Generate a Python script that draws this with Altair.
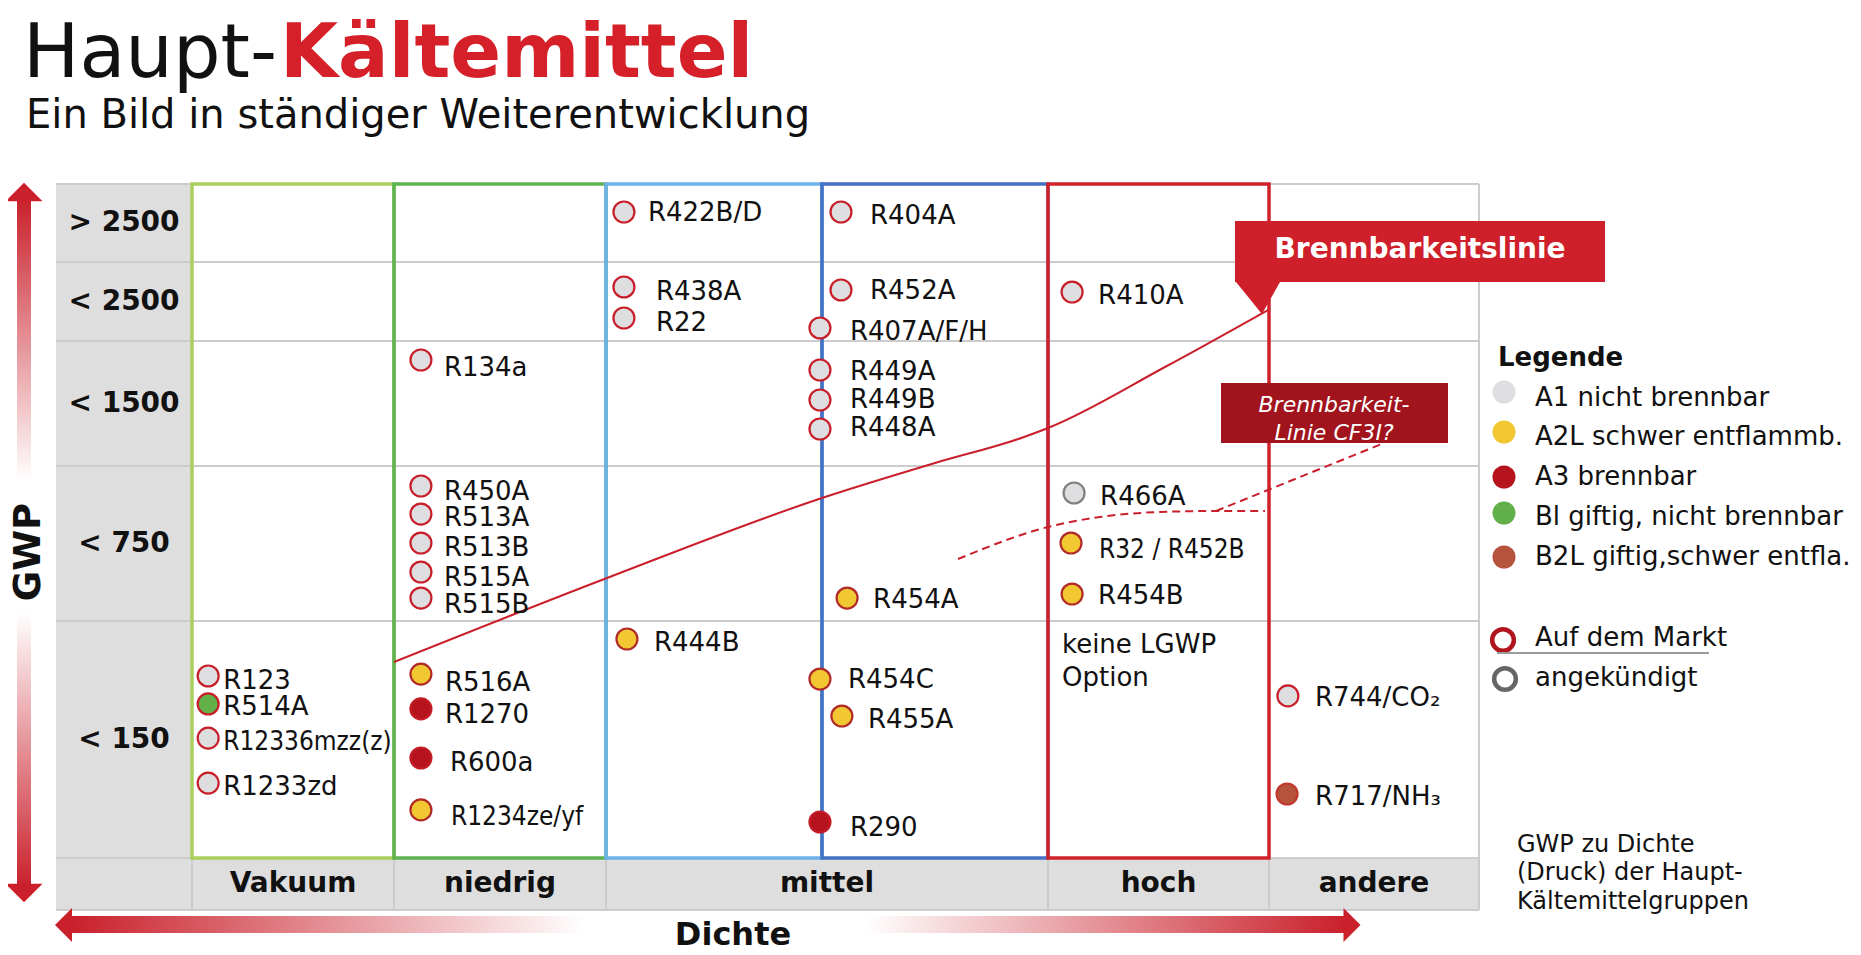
import altair as alt
import pandas as pd

# ---------------- chart values ----------------
gwp_bands = ["> 2500", "< 2500", "< 1500", "< 750", "< 150"]
density_groups = ["Vakuum", "niedrig", "mittel", "hoch", "andere"]
safety_classes = ["A1", "A2L", "A3", "B1", "B2L"]
legend_labels = ["A1 nicht brennbar", "A2L schwer entflammb.", "A3 brennbar",
                 "Bl giftig, nicht brennbar", "B2L giftig,schwer entfla."]
status_labels = ["Auf dem Markt", "angekündigt"]

refrigerants = ["R123", "R514A", "R12336mzz(z)", "R1233zd",
                "R134a", "R450A", "R513A", "R513B", "R515A", "R515B",
                "R516A", "R1270", "R600a", "R1234ze/yf",
                "R422B/D", "R438A", "R22", "R444B",
                "R404A", "R452A", "R407A/F/H", "R449A", "R449B", "R448A",
                "R454A", "R454C", "R455A", "R290",
                "R410A", "R466A", "R32 / R452B", "R454B",
                "R744/CO₂", "R717/NH₃"]
ref_group = (["Vakuum"] * 4 + ["niedrig"] * 10 + ["mittel-1"] * 4 +
             ["mittel-2"] * 10 + ["hoch"] * 4 + ["andere"] * 2)
ref_band = (["< 150"] * 4 +
            ["< 1500"] + ["< 750"] * 5 + ["< 150"] * 4 +
            ["> 2500", "< 2500", "< 2500", "< 150"] +
            ["> 2500", "< 2500", "< 2500", "< 1500", "< 1500", "< 1500",
             "< 750", "< 150", "< 150", "< 150"] +
            ["< 2500", "< 750", "< 750", "< 750"] +
            ["< 150", "< 150"])
ref_class = ["A1", "B1", "A1", "A1",
             "A1", "A1", "A1", "A1", "A1", "A1",
             "A2L", "A3", "A3", "A2L",
             "A1", "A1", "A1", "A2L",
             "A1", "A1", "A1", "A1", "A1", "A1",
             "A2L", "A2L", "A2L", "A3",
             "A1", "A1", "A2L", "A2L",
             "A1", "B2L"]
ref_status = ["Auf dem Markt"] * 29 + ["angekündigt"] + ["Auf dem Markt"] * 4
# position of each refrigerant inside its cell (0..1 across, 0..1 down)
cell_fx = [0.08, 0.08, 0.08, 0.08,
           0.127, 0.127, 0.127, 0.127, 0.127, 0.127,
           0.127, 0.127, 0.127, 0.127,
           0.083, 0.083, 0.083, 0.097,
           0.084, 0.084, -0.009, -0.009, -0.009, -0.009,
           0.111, -0.009, 0.088, -0.009,
           0.109, 0.118, 0.104, 0.109,
           0.090, 0.086]
cell_fy = [0.232, 0.350, 0.494, 0.684,
           0.152, 0.129, 0.310, 0.497, 0.684, 0.852,
           0.224, 0.371, 0.578, 0.797,
           0.359, 0.316, 0.709, 0.076,
           0.359, 0.354, 0.835, 0.232, 0.472, 0.704,
           0.852, 0.245, 0.401, 0.848,
           0.380, 0.174, 0.497, 0.826,
           0.316, 0.730]
condensed_names = ["R12336mzz(z)", "R1234ze/yf", "R32 / R452B"]

flam_line_x = [394, 607, 822, 935, 1024, 1048, 1165, 1268]
flam_line_y = [662, 578, 498, 463, 437, 428, 367, 310]
cf3i_line_x = [958, 1048, 1100, 1160, 1216, 1265]
cf3i_line_y = [559, 527, 517, 512, 511, 511]
cf3i_link_x = [1216, 1384]
cf3i_link_y = [511, 443]

title_a = "Haupt-"
title_b = "Kältemittel"
subtitle = "Ein Bild in ständiger Weiterentwicklung"
callout_main = "Brennbarkeitslinie"
callout_cf3i = ["Brennbarkeit-", "Linie CF3I?"]
no_option = ["keine LGWP", "Option"]
side_note = ["GWP zu Dichte", "(Druck) der Haupt-", "Kältemittelgruppen"]

# ---------------- layout (page units) ----------------
COL = {"Vakuum": (192, 394), "niedrig": (394, 606), "mittel-1": (606, 822),
       "mittel-2": (822, 1048), "hoch": (1048, 1269), "andere": (1269, 1479)}
BOTTOM_COL = {"Vakuum": (192, 394), "niedrig": (394, 606), "mittel": (606, 1048),
              "hoch": (1048, 1269), "andere": (1269, 1479)}
ROW = {"> 2500": (184, 262), "< 2500": (262, 341), "< 1500": (341, 466),
       "< 750": (466, 621), "< 150": (621, 858)}
GRID_L, GRID_R, GRID_T, CELL_B, GRID_B = 56, 1479, 184, 858, 910
label_dx = [17, 17, 17, 17,
            25, 25, 25, 25, 25, 25,
            26, 26, 31, 32,
            26, 34, 34, 29,
            31, 31, 32, 32, 32, 32,
            28, 30, 28, 32,
            28, 28, 30, 28,
            29, 30]
label_dy = [5, 3, 4, 4,
            8, 6, 4, 5, 6, 7,
            9, 6, 5, 7,
            1, 5, 5, 4,
            4, 1, 4, 2, 0, -1,
            2, 1, 4, 6,
            4, 4, 7, 2,
            2, 3]

RED = "#c9202b"
GREY_BG = "#dedede"
GRID = "#cccccc"
FONT = "DejaVu Sans"

dot_fill = ["#dedee0", "#f2c832", "#b5141e", "#62b04a", "#b5533c"]
dot_stroke = {"A1": "#c81e2a", "A2L": "#b02a28", "A3": "#c41c26", "B1": "#c81e2a", "B2L": "#c0392e"}
announced_stroke = "#808080"
legend_fill = ["#e3e3e6", "#f3c72f", "#d2202b", "#9fd15a", "#b65b43"]

xs = alt.Scale(domain=[8, 1853], nice=False, zero=False)
ys = alt.Scale(domain=[8, 953], nice=False, zero=False, reverse=True)


def X(f="x"):
    return alt.X(f"{f}:Q", scale=xs, axis=None)


def Y(f="y"):
    return alt.Y(f"{f}:Q", scale=ys, axis=None)


def txt(df, **mk):
    return alt.Chart(df).mark_text(font=mk.pop("font", FONT), **mk).encode(
        x=X(), y=Y(), text="t:N")


def rects(df, **mk):
    return alt.Chart(df).mark_rect(**mk).encode(x=X(), x2="x2:Q", y=Y(), y2="y2:Q")


layers = []

# backgrounds
bg = pd.DataFrame({"x": [GRID_L, GRID_L], "x2": [COL["Vakuum"][0], GRID_R],
                   "y": [GRID_T, CELL_B], "y2": [CELL_B, GRID_B]})
layers.append(rects(bg, color=GREY_BG))

# grid lines
hl = []
for yv in [r[0] for r in ROW.values()] + [CELL_B, GRID_B]:
    hl.append(dict(x=GRID_L, x2=GRID_R, y=yv, y2=yv))
for xv in [192, 394, 606, 1048, 1269]:
    hl.append(dict(x=xv, x2=xv, y=CELL_B, y2=GRID_B))
hl.append(dict(x=GRID_R, x2=GRID_R, y=GRID_T, y2=GRID_B))
layers.append(alt.Chart(pd.DataFrame(hl)).mark_rule(color=GRID, strokeWidth=2).encode(
    x=X(), x2="x2:Q", y=Y(), y2="y2:Q"))

# coloured density boxes
box_cols = ["Vakuum", "niedrig", "mittel-1", "mittel-2", "hoch"]
box_colors = ["#a9d05b", "#5db451", "#6db1ea", "#4472c4", "#d0222b"]
for key, c in zip(box_cols, box_colors):
    b = pd.DataFrame({"x": [COL[key][0]], "x2": [COL[key][1]], "y": [GRID_T], "y2": [CELL_B]})
    layers.append(rects(b, fillOpacity=0, stroke=c, strokeWidth=3.5))

# flammability lines
fl = pd.DataFrame({"x": flam_line_x, "y": flam_line_y, "i": range(len(flam_line_x))})
layers.append(alt.Chart(fl).mark_line(color=RED, strokeWidth=2, interpolate="monotone").encode(
    x=X(), y=Y(), order="i:Q"))
cl = pd.DataFrame({"x": cf3i_line_x, "y": cf3i_line_y, "i": range(len(cf3i_line_x))})
layers.append(alt.Chart(cl).mark_line(color=RED, strokeWidth=2, strokeDash=[8, 5],
                                      interpolate="monotone").encode(x=X(), y=Y(), order="i:Q"))
ck = pd.DataFrame({"x": cf3i_link_x, "y": cf3i_link_y, "i": [0, 1]})
layers.append(alt.Chart(ck).mark_line(color=RED, strokeWidth=2, strokeDash=[8, 5]).encode(
    x=X(), y=Y(), order="i:Q"))

# refrigerant dots + labels
recs = []
for i, n in enumerate(refrigerants):
    x0, x1 = COL[ref_group[i]]
    y0, y1 = ROW[ref_band[i]]
    x = x0 + cell_fx[i] * (x1 - x0)
    y = y0 + cell_fy[i] * (y1 - y0)
    sc = announced_stroke if ref_status[i] == "angekündigt" else dot_stroke[ref_class[i]]
    recs.append(dict(t=n, cls=ref_class[i], status=ref_status[i], sc=sc, x=x, y=y,
                     lx=x + label_dx[i] - 2, ly=y + label_dy[i],
                     cond=n in condensed_names))
ref = pd.DataFrame(recs)
layers.append(alt.Chart(ref).mark_point(filled=True, shape="circle", size=440, strokeWidth=2.2,
                                        opacity=1).encode(
    x=X(), y=Y(),
    fill=alt.Fill("cls:N", scale=alt.Scale(domain=safety_classes, range=dot_fill), legend=None),
    stroke=alt.Stroke("sc:N", scale=None)))
lab = ref[~ref["cond"]][["t", "lx", "ly"]].rename(columns={"lx": "x", "ly": "y"})
layers.append(txt(lab, align="left", baseline="middle", fontSize=26, color="#111"))
labc = ref[ref["cond"]][["t", "lx", "ly"]].rename(columns={"lx": "x", "ly": "y"})
layers.append(txt(labc, align="left", baseline="middle", fontSize=26, color="#111",
                  font="DejaVu Sans Condensed, DejaVu Sans"))
layers.append(txt(pd.DataFrame({"t": no_option, "x": [1062, 1062], "y": [645, 678]}),
                  align="left", baseline="middle", fontSize=26, color="#111"))

# row + column labels
rl = pd.DataFrame({"t": gwp_bands, "x": [124] * 5,
                   "y": [(ROW[b][0] + ROW[b][1]) / 2 for b in gwp_bands]})
layers.append(txt(rl, align="center", baseline="middle", fontSize=28, fontWeight="bold", color="#111"))
cl2 = pd.DataFrame({"t": density_groups,
                    "x": [(BOTTOM_COL[g][0] + BOTTOM_COL[g][1]) / 2 for g in density_groups],
                    "y": [884] * 5})
layers.append(txt(cl2, align="center", baseline="middle", fontSize=28, fontWeight="bold", color="#111"))

# callouts
layers.append(rects(pd.DataFrame({"x": [1235], "x2": [1605], "y": [221], "y2": [282]}), color="#cf1f2a"))
layers.append(alt.Chart(pd.DataFrame({"x": [1258], "y": [298]})).mark_point(
    shape="M-1,-0.727L1,-0.727L0.18,0.727Z", filled=True, size=1936, color="#cf1f2a",
    opacity=1, strokeWidth=0).encode(x=X(), y=Y()))
layers.append(txt(pd.DataFrame({"t": [callout_main], "x": [1420], "y": [250]}),
                  align="center", baseline="middle", fontSize=28, fontWeight="bold", color="white"))
layers.append(rects(pd.DataFrame({"x": [1221], "x2": [1448], "y": [383], "y2": [443]}), color="#a1141d"))
layers.append(txt(pd.DataFrame({"t": callout_cf3i, "x": [1334, 1334], "y": [405, 433]}),
                  align="center", baseline="middle", fontSize=22, fontStyle="italic", color="white"))

# legend
layers.append(txt(pd.DataFrame({"t": ["Legende"], "x": [1498], "y": [358]}),
                  align="left", baseline="middle", fontSize=26, fontWeight="bold", color="#111"))
lg = pd.DataFrame({"t": legend_labels, "cls": safety_classes, "x": [1504] * 5,
                   "y": [392, 432, 477, 513, 557], "ly": [398, 437, 477, 517, 557]})
layers.append(alt.Chart(lg).mark_point(filled=True, shape="circle", size=530, opacity=1,
                                       strokeWidth=0).encode(
    x=X(), y=Y(),
    fill=alt.Fill("cls:N", scale=alt.Scale(domain=safety_classes, range=legend_fill), legend=None)))
layers.append(txt(pd.DataFrame({"t": legend_labels, "x": [1535] * 5, "y": lg["ly"]}),
                  align="left", baseline="middle", fontSize=26, color="#111"))
st = pd.DataFrame({"t": status_labels, "x": [1503, 1505], "y": [640, 679], "c": ["#b0141d", "#666666"]})
layers.append(alt.Chart(st).mark_point(shape="circle", size=470, strokeWidth=4.5, opacity=1,
                                       filled=False).encode(
    x=X(), y=Y(), stroke=alt.Stroke("c:N", scale=None)))
layers.append(txt(pd.DataFrame({"t": status_labels, "x": [1535, 1535], "y": [638, 678]}),
                  align="left", baseline="middle", fontSize=26, color="#111"))
layers.append(alt.Chart(pd.DataFrame({"x": [1497], "x2": [1709], "y": [653]})).mark_rule(
    color="#9a9a9a", strokeWidth=2).encode(x=X(), x2="x2:Q", y=Y()))
layers.append(txt(pd.DataFrame({"t": side_note, "x": [1517] * 3, "y": [845, 873, 902]}),
                  align="left", baseline="middle", fontSize=24, color="#111"))

# axis arrows
vgrad = {"gradient": "linear", "x1": 0, "y1": 0, "x2": 0, "y2": 1,
         "stops": [{"offset": 0, "color": RED}, {"offset": 0.41, "color": "#ffffff"},
                   {"offset": 0.6, "color": "#ffffff"}, {"offset": 1, "color": RED}]}
layers.append(rects(pd.DataFrame({"x": [17], "x2": [31], "y": [198], "y2": [888]}), fill=vgrad))
lgrad = {"gradient": "linear", "x1": 0, "y1": 0, "x2": 1, "y2": 0,
         "stops": [{"offset": 0, "color": RED}, {"offset": 1, "color": "#ffffff"}]}
rgrad = {"gradient": "linear", "x1": 0, "y1": 0, "x2": 1, "y2": 0,
         "stops": [{"offset": 0, "color": "#ffffff"}, {"offset": 1, "color": RED}]}
layers.append(rects(pd.DataFrame({"x": [70], "x2": [585], "y": [916], "y2": [933]}), fill=lgrad))
layers.append(rects(pd.DataFrame({"x": [865], "x2": [1346], "y": [916], "y2": [933]}), fill=rgrad))
heads = [("M-1,0.5L0,-0.5L1,0.5Z", 24, 192, 1369),
         ("M-1,-0.5L0,0.5L1,-0.5Z", 24, 893, 1369),
         ("M0.5,-1L-0.5,0L0.5,1Z", 63.5, 925, 1156),
         ("M-0.5,-1L0.5,0L-0.5,1Z", 1352, 925, 1156)]
for shp, hx, hy, sz in heads:
    layers.append(alt.Chart(pd.DataFrame({"x": [hx], "y": [hy]})).mark_point(
        shape=shp, filled=True, size=sz, color=RED, opacity=1, strokeWidth=0).encode(x=X(), y=Y()))
layers.append(txt(pd.DataFrame({"t": ["GWP"], "x": [29], "y": [552]}),
                  align="center", baseline="middle", fontSize=37, fontWeight="bold",
                  angle=270, color="#111"))
layers.append(txt(pd.DataFrame({"t": ["Dichte"], "x": [733], "y": [935]}),
                  align="center", baseline="middle", fontSize=32, fontWeight="bold", color="#111"))

# titles
layers.append(txt(pd.DataFrame({"t": [title_a], "x": [23], "y": [77]}),
                  align="left", baseline="alphabetic", fontSize=75, color="#111"))
layers.append(txt(pd.DataFrame({"t": [title_b], "x": [280], "y": [77]}),
                  align="left", baseline="alphabetic", fontSize=75, fontWeight="bold", color="#d52029"))
layers.append(txt(pd.DataFrame({"t": [subtitle], "x": [26], "y": [128]}),
                  align="left", baseline="alphabetic", fontSize=40, color="#111"))

chart = alt.layer(*layers).properties(
    width=1845, height=945, padding=0,
    autosize=alt.AutoSizeParams(type="none"),
    background="white",
).configure_view(stroke=None)

chart.save("out.html", embed_options={"renderer": "svg", "actions": False})
